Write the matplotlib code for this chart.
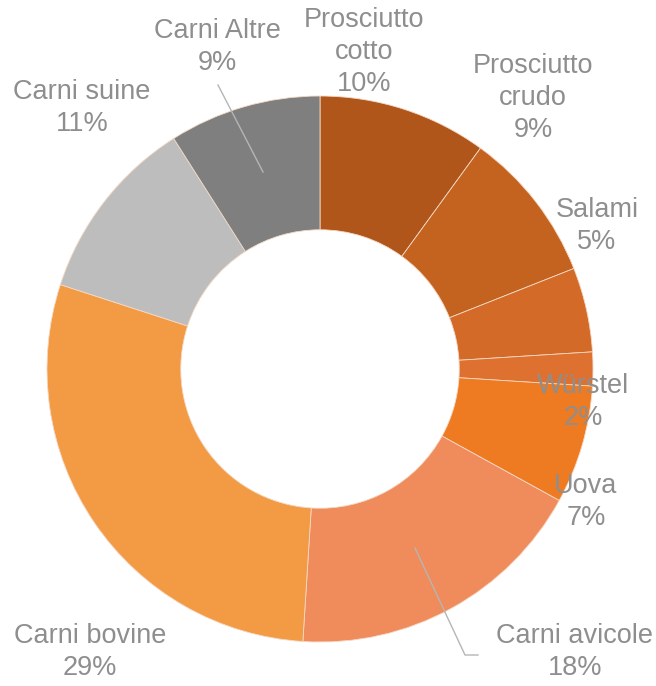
import matplotlib.pyplot as plt

# data
categorie = ['Prosciutto\ncotto', 'Prosciutto\ncrudo', 'Salami', 'Würstel', 'Uova',
             'Carni avicole', 'Carni bovine', 'Carni suine', 'Carni Altre']
quote = [10, 9, 5, 2, 7, 18, 29, 11, 9]
colori = ['#b0561a', '#c4631f', '#d36a27', '#de7130', '#ee7a22',
          '#f08c5c', '#f39a45', '#bdbdbd', '#7f7f7f']

# layout (pixel positions of the labels, centre of text block)
W, H = 656, 686
cx, cy, R = 320, 369, 273
label_px = [(364, 52), (533, 98), (597, 226), (583, 402), (586, 502),
            (575, 652), (90, 652), (82, 108), (217, 47)]


def px(x, y):
    return (x - cx) / R, (cy - y) / R


fig = plt.figure(figsize=(W / 100, H / 100), dpi=100)
ax = fig.add_axes([0, 0, 1, 1])

wedges, _ = ax.pie(quote, colors=colori, startangle=90, counterclock=False,
                   radius=1.0, wedgeprops=dict(width=0.49, edgecolor='#f3d9c5', linewidth=0.6))

# pie resets the limits, so set them afterwards
ax.set_xlim(-cx / R, (W - cx) / R)
ax.set_ylim(-(H - cy) / R, cy / R)
ax.set_aspect('equal')
ax.axis('off')

for nome, q, (lx, ly) in zip(categorie, quote, label_px):
    x, y = px(lx, ly)
    ax.text(x, y, f'{nome}\n{q}%', ha='center', va='center', fontsize=19.5,
            color='#8e8e8e', family=['Liberation Sans', 'DejaVu Sans'], linespacing=1.3)

# leader lines
for pts in [[(218, 85), (263, 172)], [(415, 548), (465, 655), (478, 655)]]:
    xy = [px(*p) for p in pts]
    ax.plot([p[0] for p in xy], [p[1] for p in xy], color='#b5b5b5', lw=1)

fig.savefig('out.png', dpi=100, facecolor='white')
